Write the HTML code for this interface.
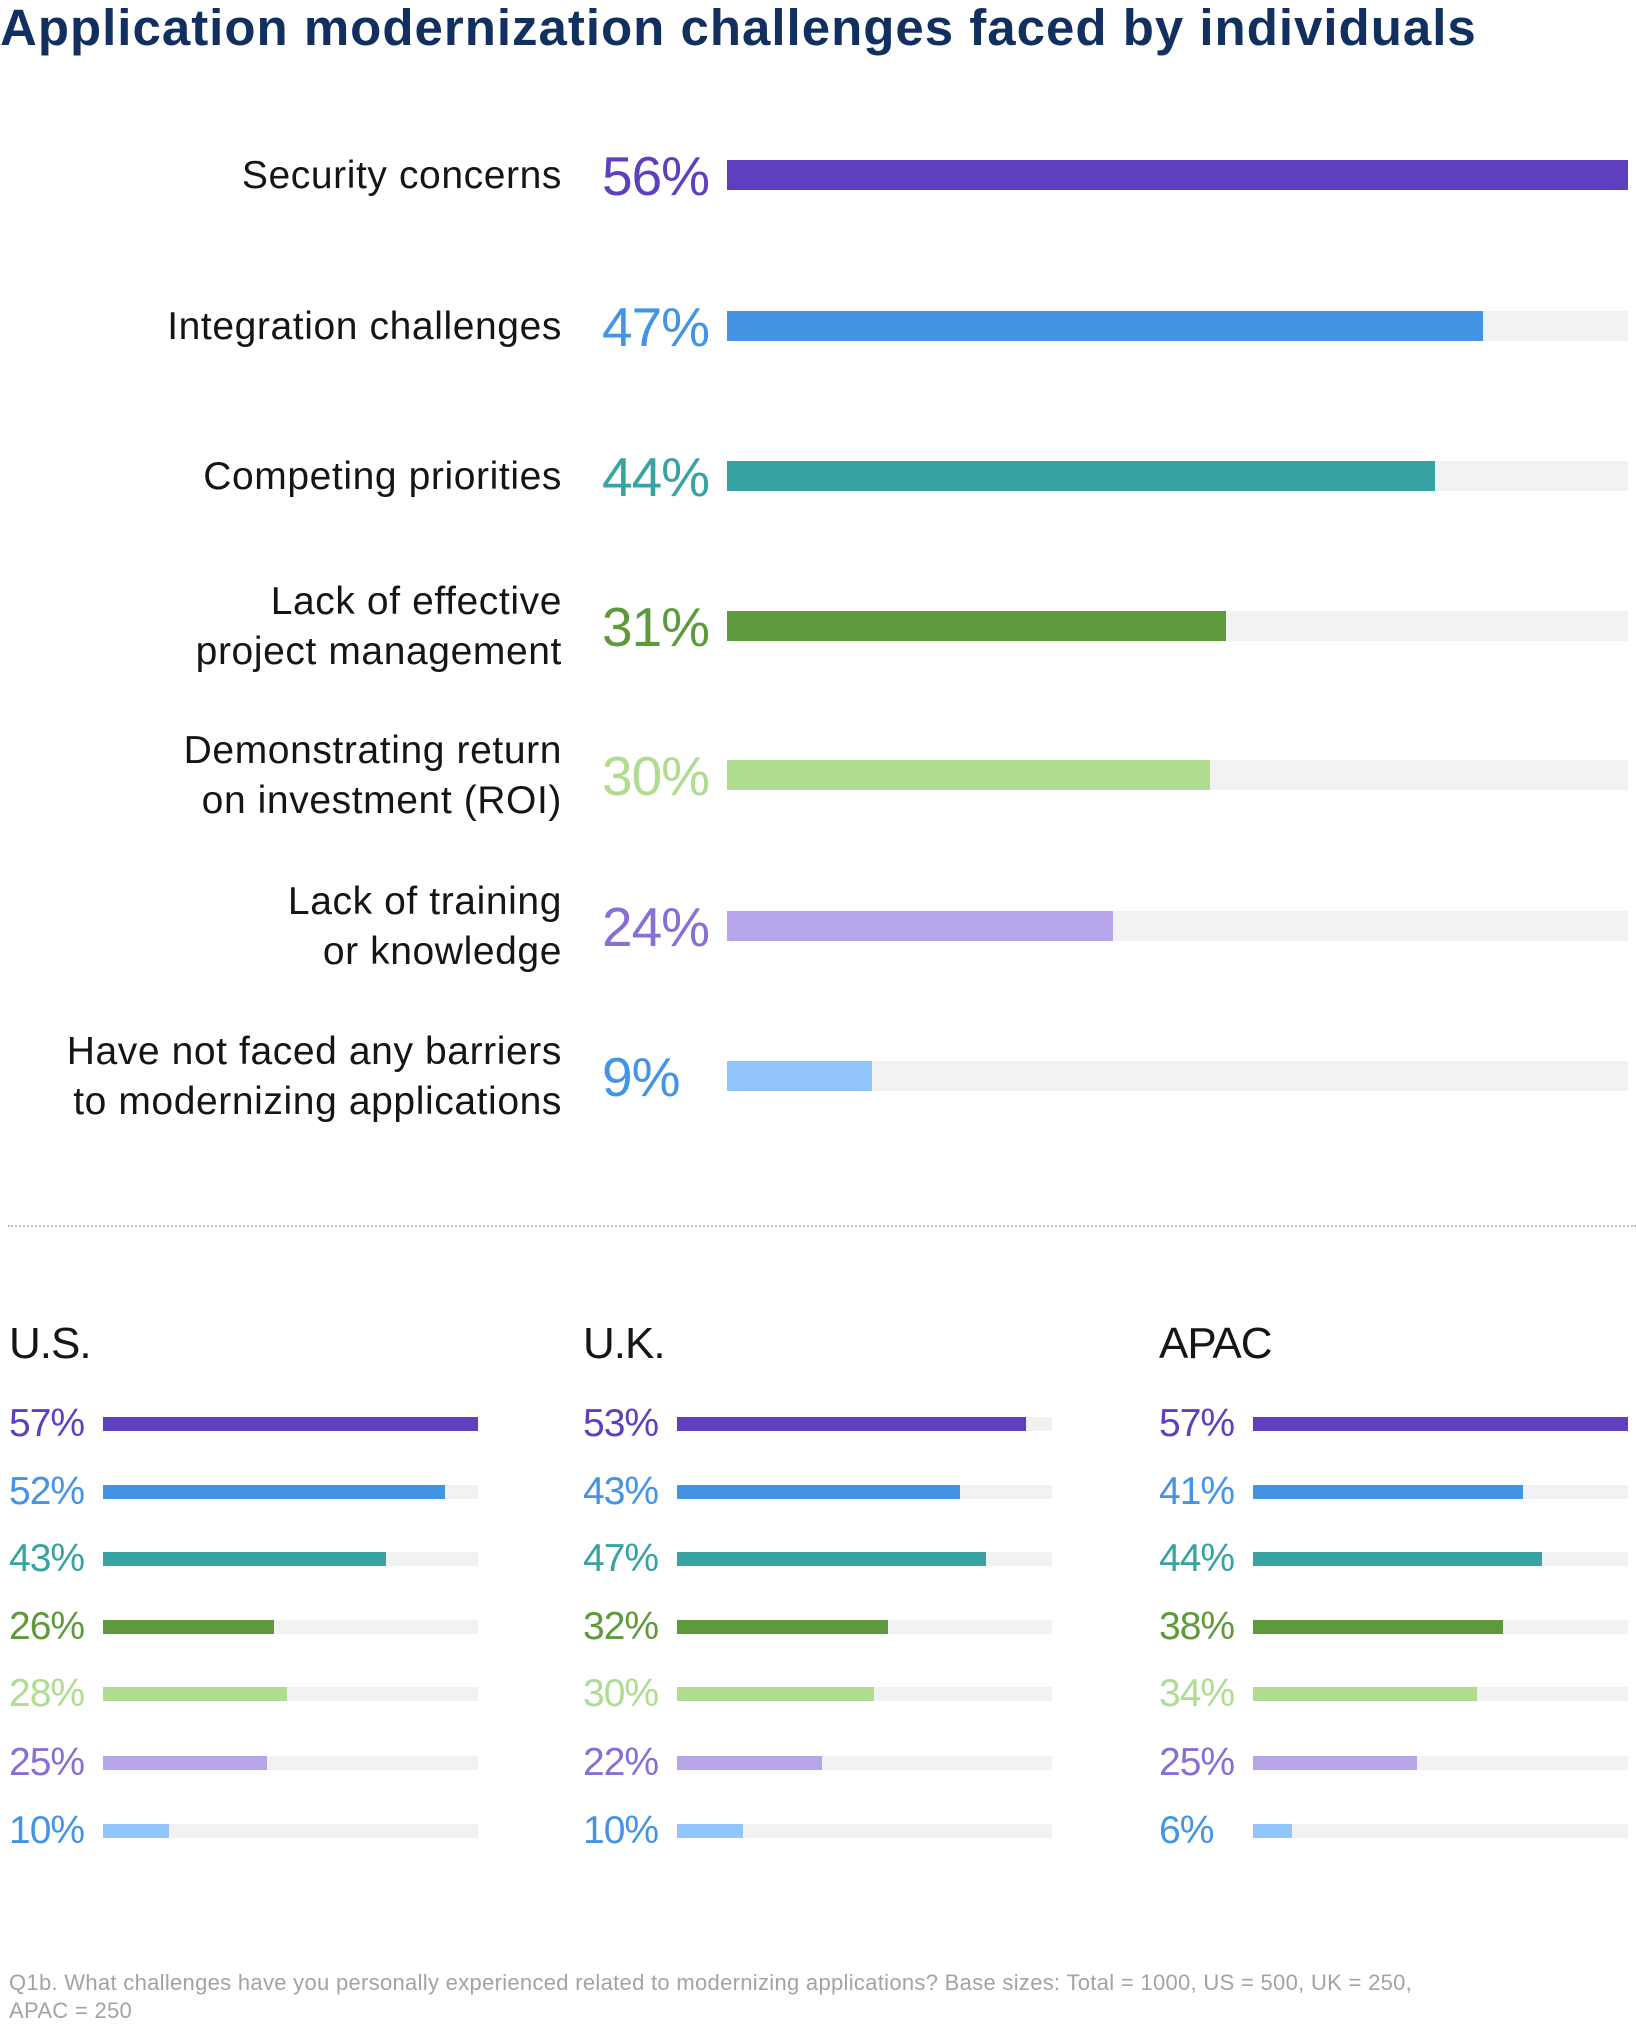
<!DOCTYPE html>
<html><head><meta charset="utf-8"><style>
*{margin:0;padding:0;box-sizing:border-box}
body{width:1636px;height:2020px;background:#fff;position:relative;overflow:hidden;font-family:"Liberation Sans",sans-serif}
.a{position:absolute;white-space:nowrap}
.title{left:0;top:-2px;font-size:51px;font-weight:bold;color:#12305f;letter-spacing:1px}
.lab{right:1074px;font-size:39px;color:#151515;text-align:right;line-height:50px;letter-spacing:0.6px}
.pct{left:602px;font-size:55px;line-height:60px;letter-spacing:-1px}
.track{position:absolute;background:#f2f2f2}
.bar{position:absolute;left:0;top:0;bottom:0}
.hd{font-size:44px;color:#151515;top:1319px;letter-spacing:-1px}
.sp{font-size:39px;line-height:44px;letter-spacing:-1px}
.foot{left:9px;top:1969px;font-size:22px;color:#a3a3a3;line-height:28px;letter-spacing:0.3px}
</style></head><body>
<div class="a title">Application modernization challenges faced by individuals</div>

<div class="a lab" style="top:151px">Security concerns</div>
<div class="a lab" style="top:302px">Integration challenges</div>
<div class="a lab" style="top:452px">Competing priorities</div>
<div class="a lab" style="top:577px">Lack of effective<br>project management</div>
<div class="a lab" style="top:726px">Demonstrating return<br>on investment (ROI)</div>
<div class="a lab" style="top:877px">Lack of training<br>or knowledge</div>
<div class="a lab" style="top:1027px">Have not faced any barriers<br>to modernizing applications</div>

<div class="a pct" style="top:146px;color:#5e40be">56%</div>
<div class="a pct" style="top:297px;color:#4394e5">47%</div>
<div class="a pct" style="top:447px;color:#37a3a3">44%</div>
<div class="a pct" style="top:597px;color:#5e9a3b">31%</div>
<div class="a pct" style="top:746px;color:#afdc8f">30%</div>
<div class="a pct" style="top:897px;color:#876fd4">24%</div>
<div class="a pct" style="top:1047px;color:#4394e5">9%</div>

<div class="track" style="left:727px;width:901px;top:160px;height:30px"><div class="bar" style="width:901px;background:#5e40be"></div></div>
<div class="track" style="left:727px;width:901px;top:311px;height:30px"><div class="bar" style="width:756px;background:#4394e5"></div></div>
<div class="track" style="left:727px;width:901px;top:461px;height:30px"><div class="bar" style="width:708px;background:#37a3a3"></div></div>
<div class="track" style="left:727px;width:901px;top:611px;height:30px"><div class="bar" style="width:499px;background:#5e9a3b"></div></div>
<div class="track" style="left:727px;width:901px;top:760px;height:30px"><div class="bar" style="width:483px;background:#afdc8f"></div></div>
<div class="track" style="left:727px;width:901px;top:911px;height:30px"><div class="bar" style="width:386px;background:#b6a6e9"></div></div>
<div class="track" style="left:727px;width:901px;top:1061px;height:30px"><div class="bar" style="width:145px;background:#92c5f9"></div></div>

<div class="a" style="left:8px;top:1225px;width:1628px;border-top:2px dotted #bdbdbd"></div>

<div class="a hd" style="left:9px">U.S.</div>
<div class="a hd" style="left:583px">U.K.</div>
<div class="a hd" style="left:1159px">APAC</div>

<div id="small"></div>
<script>
var cols=[{x:9,bx:103,v:[57,52,43,26,28,25,10]},{x:583,bx:677,v:[53,43,47,32,30,22,10]},{x:1159,bx:1253,v:[57,41,44,38,34,25,6]}];
var c=['#5e40be','#4394e5','#37a3a3','#5e9a3b','#afdc8f','#b6a6e9','#92c5f9'];
var tc=['#5e40be','#4394e5','#37a3a3','#5e9a3b','#afdc8f','#876fd4','#4394e5'];
var ys=[1424,1492,1559,1627,1694,1763,1831];
var h='';
cols.forEach(function(col){col.v.forEach(function(v,i){
h+='<div class="a sp" style="left:'+col.x+'px;top:'+(ys[i]-22)+'px;color:'+tc[i]+'">'+v+'%</div>';
h+='<div class="track" style="left:'+col.bx+'px;width:375px;top:'+(ys[i]-7)+'px;height:14px"><div class="bar" style="width:'+Math.round(v/57*375)+'px;background:'+c[i]+'"></div></div>';
});});
document.getElementById('small').innerHTML=h;
</script>

<div class="a foot">Q1b. What challenges have you personally experienced related to modernizing applications? Base sizes: Total = 1000, US = 500, UK = 250,<br>APAC = 250</div>
</body></html>
